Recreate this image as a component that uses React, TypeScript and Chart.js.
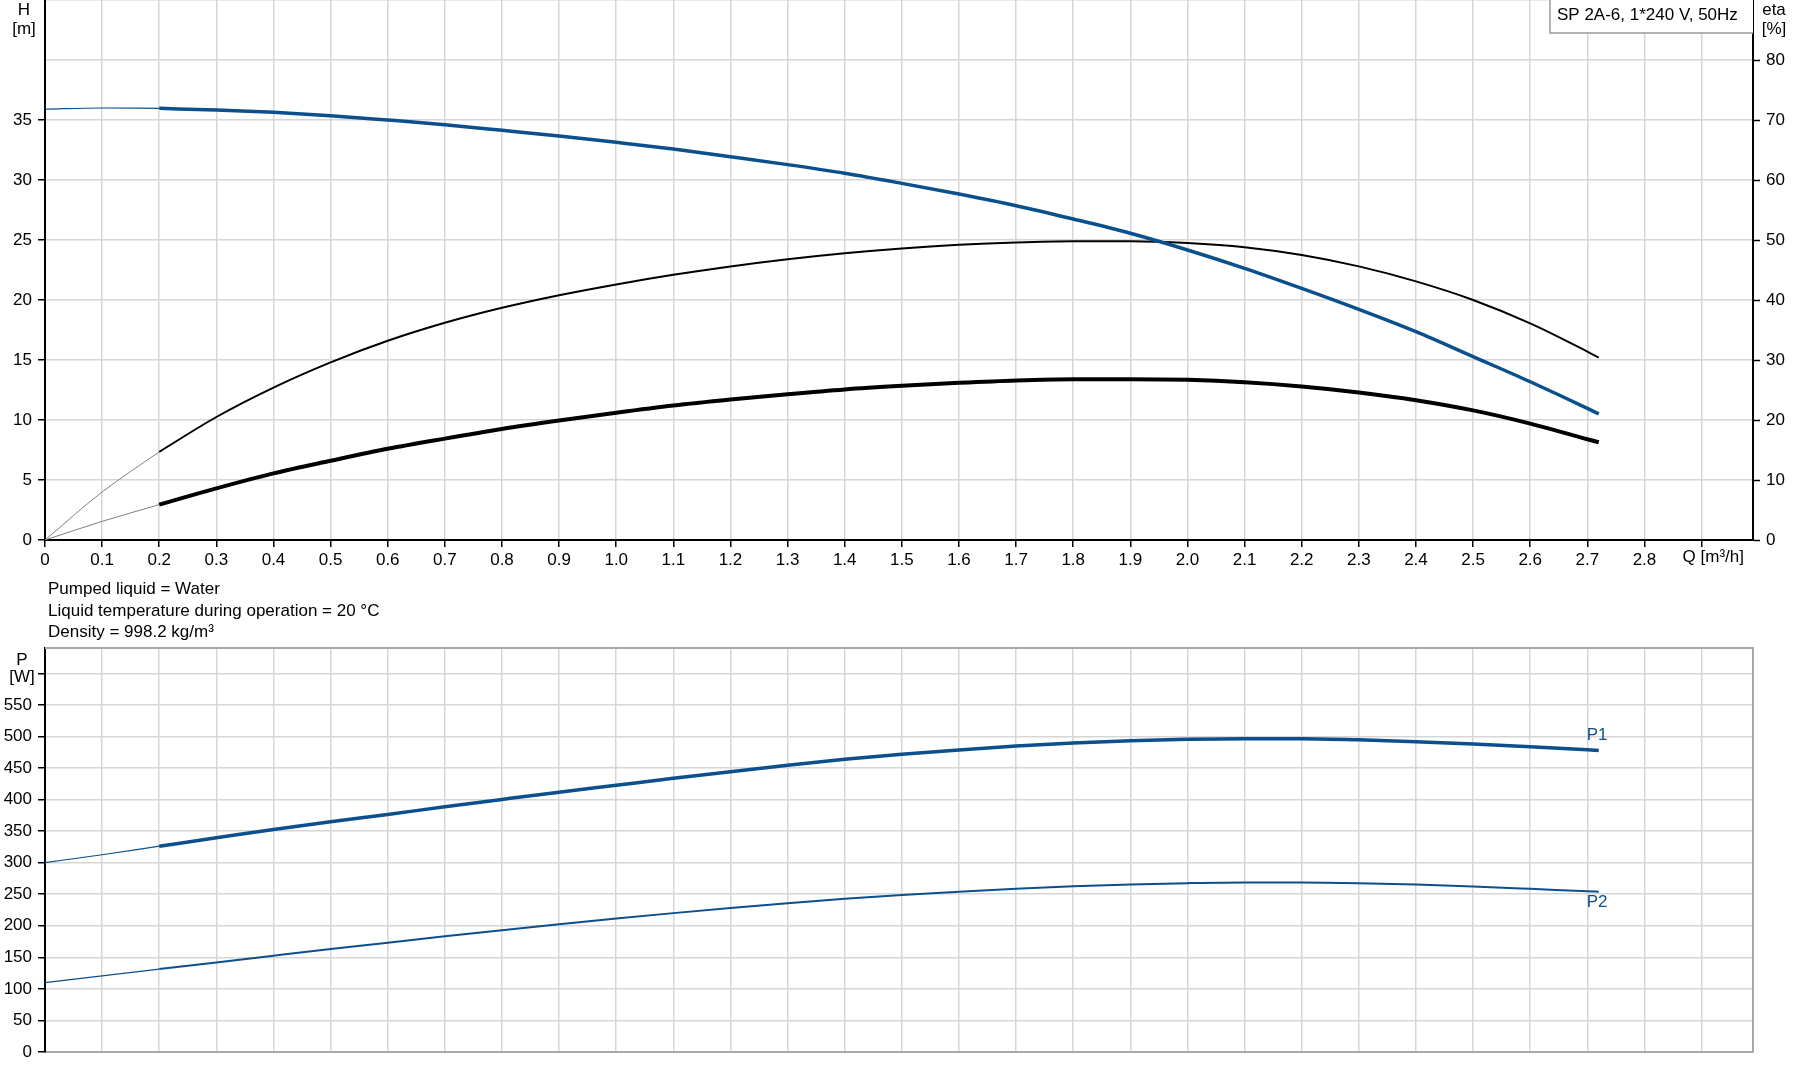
import { useEffect, useRef } from "react";
import { Chart, registerables, type Plugin, type ChartConfiguration } from "chart.js";

Chart.register(...registerables);

const FONT = "'Liberation Sans', Arial, sans-serif";
const FS = 17;
const BLUE = "#0b4f8c";
const GRID = "#d6d6d6";
const FRAME = "#a8a8a8";
const THIN = "#808080";

// flow Q [m³/h] – thin start segment and the operating range
const Q_START = [0, 0.1, 0.2];
const Q_MAIN = [
  0.2, 0.3, 0.4, 0.5, 0.6, 0.7, 0.8, 0.9, 1.0, 1.1, 1.2, 1.3, 1.4, 1.5,
  1.6, 1.7, 1.8, 1.9, 2.0, 2.1, 2.2, 2.3, 2.4, 2.5, 2.6, 2.7, 2.72,
];

// head H [m]
const H_START = [35.9, 36.0, 35.97];
const H_MAIN = [
  35.97, 35.83, 35.64, 35.36, 35.0, 34.61, 34.14, 33.67, 33.14, 32.58, 31.94, 31.28, 30.56, 29.72,
  28.83, 27.86, 26.75, 25.56, 24.17, 22.64, 20.97, 19.22, 17.36, 15.28, 13.19, 10.97, 10.5,
];

// pump efficiency eta [%]
const ETA_START = [0, 8.0, 14.7];
const ETA_MAIN = [
  14.7, 20.5, 25.4, 29.6, 33.2, 36.2, 38.7, 40.8, 42.6, 44.2, 45.6, 46.8, 47.8, 48.6,
  49.2, 49.6, 49.8, 49.8, 49.5, 48.8, 47.5, 45.6, 43.1, 40.0, 36.1, 31.4, 30.4,
];

// total efficiency eta [%]
const ETA_TOT_START = [0, 3.1, 5.9];
const ETA_TOT_MAIN = [
  5.9, 8.6, 11.1, 13.2, 15.2, 16.9, 18.5, 19.9, 21.2, 22.4, 23.4, 24.3, 25.1, 25.7,
  26.2, 26.6, 26.8, 26.8, 26.7, 26.3, 25.6, 24.6, 23.3, 21.6, 19.4, 16.8, 16.3,
];

// power P1 / P2 [W]
const P1_START = [300, 312.5, 326];
const P1_MAIN = [
  326, 339.3, 352.5, 364.7, 376.4, 388.4, 400.1, 411.6, 422.6, 433.6, 444.1, 454.2, 463.6, 471.8,
  478.6, 484.6, 489.4, 493.1, 495.3, 496.3, 496.2, 494.5, 491.6, 487.9, 483.6, 478.8, 477.7,
];
const P2_START = [110, 120.5, 131.3];
const P2_MAIN = [
  131.3, 141.9, 152.5, 163.0, 173.2, 183.2, 193.0, 202.4, 211.4, 220.0, 228.2, 235.8, 242.7, 248.8,
  254.0, 258.6, 262.4, 265.4, 267.5, 268.6, 268.6, 267.5, 265.3, 262.2, 258.5, 254.6, 253.9,
];

const TITLE = "SP 2A-6, 1*240 V, 50Hz";
const INFO_LINES = [
  "Pumped liquid = Water",
  "Liquid temperature during operation = 20 °C",
  "Density = 998.2 kg/m³",
];

const W = 1795;
const TOP_H = 580;
const BOT_TOP = 640;
const BOT_H = 441;

const pts = (xs: number[], ys: number[]) => xs.map((x, i) => ({ x, y: ys[i] }));

function line(data: { x: number; y: number }[], color: string, width: number, axis: string) {
  return {
    data,
    yAxisID: axis,
    borderColor: color,
    backgroundColor: color,
    borderWidth: width,
    pointRadius: 0,
    fill: false,
    cubicInterpolationMode: "monotone" as const,
  };
}

const noPad = (s: any) => {
  s.paddingTop = 0;
  s.paddingBottom = 0;
  s.paddingLeft = 0;
  s.paddingRight = 0;
};

const tickColor = (limit: number) => (c: any) =>
  c.tick && c.tick.value <= limit ? "#000" : "rgba(0,0,0,0)";

const topText: Plugin = {
  id: "topText",
  afterDraw(chart) {
    const { ctx, chartArea, scales } = chart;
    ctx.save();
    ctx.font = `${FS}px ${FONT}`;
    ctx.fillStyle = "#000";
    ctx.textBaseline = "alphabetic";
    ctx.textAlign = "center";
    ctx.fillText("H", 24, 15);
    ctx.fillText("[m]", 24, 34);
    ctx.fillText("eta", chartArea.right + 21, 15);
    ctx.fillText("[%]", chartArea.right + 21, 34);
    ctx.textAlign = "left";
    ctx.fillText("Q [m³/h]", scales.x.getPixelForValue(2.9) - 19, chartArea.bottom + 22);
    // title box
    const bx = 1550;
    ctx.fillStyle = "#fff";
    ctx.fillRect(bx, 0, chartArea.right - bx, 33);
    ctx.strokeStyle = "#999";
    ctx.lineWidth = 1.5;
    ctx.beginPath();
    ctx.moveTo(bx, 0);
    ctx.lineTo(bx, 33);
    ctx.lineTo(chartArea.right, 33);
    ctx.stroke();
    ctx.fillStyle = "#000";
    ctx.fillText(TITLE, bx + 7, 20);
    ctx.restore();
  },
};

const botText: Plugin = {
  id: "botText",
  afterDraw(chart) {
    const { ctx, chartArea, scales } = chart;
    ctx.save();
    ctx.strokeStyle = FRAME;
    ctx.lineWidth = 2;
    ctx.beginPath();
    ctx.moveTo(chartArea.left, chartArea.top);
    ctx.lineTo(chartArea.right, chartArea.top);
    ctx.lineTo(chartArea.right, chartArea.bottom);
    ctx.stroke();
    ctx.font = `${FS}px ${FONT}`;
    ctx.fillStyle = "#000";
    ctx.textAlign = "center";
    ctx.fillText("P", 22, chartArea.top + 17);
    ctx.fillText("[W]", 22, chartArea.top + 34);
    const qEnd = Q_MAIN[Q_MAIN.length - 1];
    const x = scales.x.getPixelForValue(qEnd) - 12;
    ctx.fillStyle = BLUE;
    ctx.textAlign = "left";
    ctx.fillText("P1", x, scales.p.getPixelForValue(P1_MAIN[P1_MAIN.length - 1]) - 10);
    ctx.fillText("P2", x, scales.p.getPixelForValue(P2_MAIN[P2_MAIN.length - 1]) + 15);
    ctx.restore();
  },
};

export default function App() {
  const topRef = useRef<HTMLCanvasElement>(null);
  const botRef = useRef<HTMLCanvasElement>(null);

  useEffect(() => {
    if (!topRef.current || !botRef.current) return;
    Chart.defaults.font.family = FONT;
    Chart.defaults.font.size = FS;
    Chart.defaults.color = "#000";

    const topCfg: ChartConfiguration = {
      type: "line",
      data: {
        datasets: [
          line(pts(Q_MAIN, H_MAIN), BLUE, 3.5, "h"),
          line(pts(Q_START, H_START), BLUE, 1.2, "h"),
          line(pts(Q_MAIN, ETA_MAIN), "#000", 2, "eta"),
          line(pts(Q_START, ETA_START), THIN, 1, "eta"),
          line(pts(Q_MAIN, ETA_TOT_MAIN), "#000", 4, "eta"),
          line(pts(Q_START, ETA_TOT_START), THIN, 1, "eta"),
        ] as any,
      },
      options: {
        responsive: false,
        animation: false,
        events: [],
        layout: { padding: 0 },
        plugins: { legend: { display: false }, tooltip: { enabled: false } },
        scales: {
          x: {
            type: "linear",
            min: 0,
            max: 2.99,
            ticks: {
              stepSize: 0.1,
              includeBounds: false,
              autoSkip: false,
              maxRotation: 0,
              padding: 3,
              callback: (v) => {
                const n = Math.round(Number(v) * 10);
                if (n === 0) return "0";
                if (n >= 29) return "";
                return (n / 10).toFixed(1);
              },
            },
            grid: { color: GRID, lineWidth: 1.5, tickColor: "#000", tickLength: 7, tickWidth: 1.5 },
            border: { color: "#000", width: 2 },
            afterFit: (s: any) => {
              noPad(s);
              s.height = 40;
            },
          },
          h: {
            type: "linear",
            position: "left",
            min: 0,
            max: 45,
            ticks: {
              stepSize: 5,
              includeBounds: false,
              padding: 6,
              callback: (v) => (Number(v) <= 35 ? String(v) : ""),
            },
            grid: { color: GRID, lineWidth: 1.5, tickColor: tickColor(35), tickLength: 7, tickWidth: 1.5 },
            border: { color: "#000", width: 2 },
            afterFit: (s: any) => {
              noPad(s);
              s.width = 45;
            },
          },
          eta: {
            type: "linear",
            position: "right",
            min: 0,
            max: 90,
            ticks: {
              stepSize: 10,
              includeBounds: false,
              padding: 6,
              callback: (v) => (Number(v) <= 80 ? String(v) : ""),
            },
            grid: { drawOnChartArea: false, tickColor: tickColor(80), tickLength: 7, tickWidth: 1.5 },
            border: { color: "#000", width: 2 },
            afterFit: (s: any) => {
              noPad(s);
              s.width = 42;
            },
          },
        },
      },
      plugins: [topText],
    };

    const botCfg: ChartConfiguration = {
      type: "line",
      data: {
        datasets: [
          line(pts(Q_MAIN, P1_MAIN), BLUE, 3.5, "p"),
          line(pts(Q_START, P1_START), BLUE, 1.2, "p"),
          line(pts(Q_MAIN, P2_MAIN), BLUE, 2, "p"),
          line(pts(Q_START, P2_START), BLUE, 1.2, "p"),
        ] as any,
      },
      options: {
        responsive: false,
        animation: false,
        events: [],
        layout: { padding: { top: 8, right: 42, left: 0, bottom: 0 } },
        plugins: { legend: { display: false }, tooltip: { enabled: false } },
        scales: {
          x: {
            type: "linear",
            min: 0,
            max: 2.99,
            ticks: { display: false, stepSize: 0.1, includeBounds: false, autoSkip: false },
            grid: { color: GRID, lineWidth: 1.5, drawTicks: false },
            border: { color: FRAME, width: 2 },
            afterFit: (s: any) => {
              noPad(s);
              s.height = 29;
            },
          },
          p: {
            type: "linear",
            position: "left",
            min: 0,
            max: 640,
            ticks: {
              stepSize: 50,
              includeBounds: false,
              padding: 6,
              callback: (v) => (Number(v) <= 550 ? String(v) : ""),
            },
            grid: { color: GRID, lineWidth: 1.5, tickColor: tickColor(600), tickLength: 7, tickWidth: 1.5 },
            border: { color: "#000", width: 2 },
            afterFit: (s: any) => {
              noPad(s);
              s.width = 45;
            },
          },
        },
      },
      plugins: [botText],
    };

    const top = new Chart(topRef.current, topCfg);
    const bot = new Chart(botRef.current, botCfg);
    return () => {
      top.destroy();
      bot.destroy();
    };
  }, []);

  return (
    <div
      style={{
        position: "absolute",
        left: 0,
        top: 0,
        width: W,
        height: 1081,
        overflow: "hidden",
        background: "#fff",
        fontFamily: FONT,
      }}
    >
      <canvas
        ref={topRef}
        width={W}
        height={TOP_H}
        style={{ position: "absolute", left: 0, top: 0, width: W, height: TOP_H }}
      />
      <div
        style={{
          position: "absolute",
          left: 48,
          top: 578,
          fontSize: FS,
          lineHeight: "21.5px",
          color: "#000",
          whiteSpace: "nowrap",
        }}
      >
        {INFO_LINES.map((t) => (
          <div key={t}>{t}</div>
        ))}
      </div>
      <canvas
        ref={botRef}
        width={W}
        height={BOT_H}
        style={{ position: "absolute", left: 0, top: BOT_TOP, width: W, height: BOT_H }}
      />
    </div>
  );
}
